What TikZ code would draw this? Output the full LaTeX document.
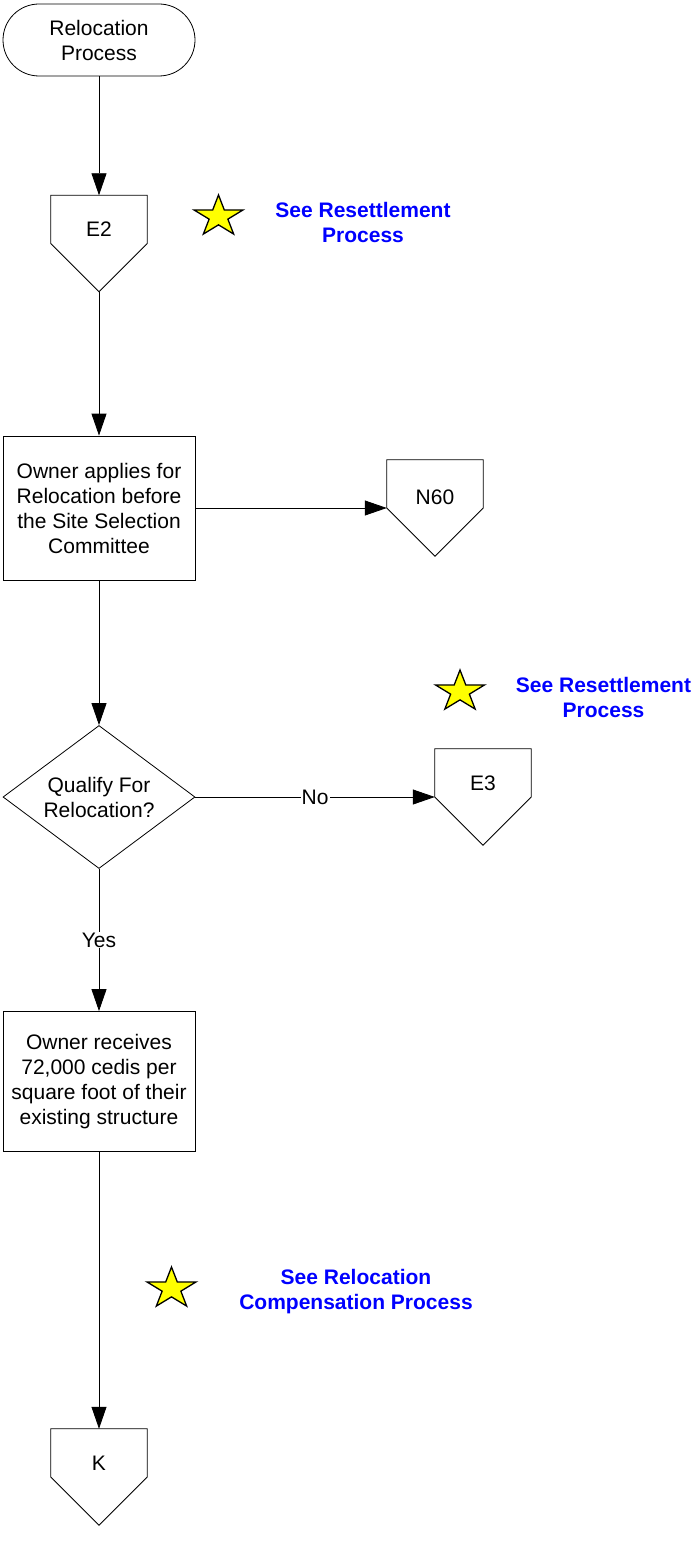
\documentclass[tikz,border=0pt]{standalone}
\usepackage{fontspec}
\setmainfont{Liberation Sans}
\usetikzlibrary{arrows.meta,shapes.geometric}
\definecolor{seeblue}{RGB}{0,0,255}
\definecolor{staryellow}{RGB}{255,255,0}
\tikzset{
  base/.style={font=\fontsize{21}{25}\selectfont, align=center, text=black},
  outline/.style={draw=black, line width=0.8pt},
  terminal/.style={base, outline, rounded corners=36pt, minimum width=192pt, minimum height=72pt, inner sep=0pt},
  procbox/.style={base, outline, minimum width=192pt, inner sep=0pt},
  decision/.style={base, outline, diamond, aspect=1.34, minimum width=192pt, minimum height=143pt, inner sep=1pt},
  offpage/.style={minimum width=96pt, minimum height=96pt, inner sep=0pt},
  pentext/.style={base, inner sep=0pt},
  note/.style={font=\bfseries\fontsize{21}{25}\selectfont, text=seeblue, align=center, inner sep=0pt},
  flow/.style={outline, -{Triangle[length=22pt,width=15pt]}},
  edgelabel/.style={base, fill=white, inner sep=1pt},
  starstyle/.style={fill=staryellow, draw=black, line width=1.3pt, line join=miter}
}
\newcommand{\pentagonof}[1]{\draw[outline] (#1.north west) -- (#1.north east) -- (#1.east) -- (#1.south) -- (#1.west) -- cycle;}
\newcommand{\starat}[2]{\draw[starstyle, shift={(#1,#2)}, xscale=25.8, yscale=-21.6]
  (90:1) -- (126:0.382) -- (162:1) -- (198:0.382) -- (234:1) -- (270:0.382) -- (306:1) -- (342:0.382) -- (18:1) -- (54:0.382) -- cycle;}
\begin{document}
\begin{tikzpicture}[x=1pt, y=-1pt]
\useasboundingbox (0,0) rectangle (693,1541);

% main column
\node[terminal] (start) at (99,40) {Relocation\\Process};

\node[offpage] (E2) at (99,243.5) {};
\pentagonof{E2}
\node[pentext] (E2t) at (99,229) {E2};

\node[procbox, minimum height=144pt] (apply) at (99,508) {Owner applies for\\Relocation before\\the Site Selection\\Committee};

\node[offpage] (N60) at (435,508) {};
\pentagonof{N60}
\node[pentext] (N60t) at (435,497) {N60};

\node[decision] (qual) at (99,797) {Qualify For\\Relocation?};

\node[offpage] (E3) at (483,797) {};
\pentagonof{E3}
\node[pentext] (E3t) at (483,783) {E3};

\node[procbox, minimum height=140pt] (recv) at (99,1081.5) {Owner receives\\72,000 cedis per\\square foot of their\\existing structure};

\node[offpage] (K) at (99,1477) {};
\pentagonof{K}
\node[pentext] (Kt) at (99,1463) {K};

% connectors
\draw[flow] (start.south) -- (E2.north);
\draw[flow] (E2.south) -- (apply.north);
\draw[flow] (apply.east |- N60.west) -- (N60.west);
\draw[flow] (apply.south) -- (qual.north);
\draw[flow] (qual.east) -- node[edgelabel] (nolab) {No} (E3.west);
\draw[flow] (qual.south) -- node[edgelabel] (yeslab) {Yes} (recv.north);
\draw[flow] (recv.south) -- (K.north);

% stars and notes
\starat{218.5}{216.6}
\node[note] (note1) at (363,222) {See Resettlement\\Process};
\starat{460}{691.6}
\node[note] (note2) at (603.5,697) {See Resettlement\\Process};
\starat{171.5}{1288.6}
\node[note] (note3) at (356,1292) {See Relocation\\Compensation Process};
\end{tikzpicture}
\end{document}
